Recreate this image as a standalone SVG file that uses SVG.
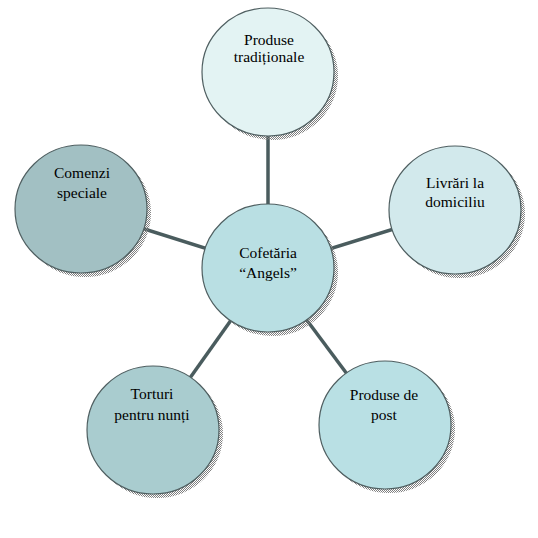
<svg xmlns="http://www.w3.org/2000/svg" width="538" height="538" viewBox="0 0 538 538">
<defs>
<pattern id="dither" width="2" height="2" patternUnits="userSpaceOnUse">
<rect x="0" y="0" width="1" height="1" fill="#7f7f7f"/>
<rect x="1" y="1" width="1" height="1" fill="#7f7f7f"/>
</pattern>
</defs>
<style>
.bg{fill:#ffffff}
.conn{stroke:#4a5c5e;stroke-width:3.5;fill:none}
.shadow{fill:url(#dither)}
.node{stroke:#4f5f61;stroke-width:1.2}
.lbl{font-family:"Liberation Serif","Times New Roman",serif;font-size:15.5px;fill:#000;text-anchor:middle}
</style>
<rect class="bg" x="0" y="0" width="538" height="538"/>
<g id="connectors">
<line class="conn" x1="268" y1="268" x2="268" y2="72"/>
<line class="conn" x1="268" y1="268" x2="455" y2="210"/>
<line class="conn" x1="268" y1="268" x2="81" y2="209"/>
<line class="conn" x1="268" y1="268" x2="153" y2="430"/>
<line class="conn" x1="268" y1="268" x2="385" y2="425"/>
</g>
<g id="shadows">
<ellipse class="shadow" cx="272" cy="76" rx="66" ry="64"/>
<ellipse class="shadow" cx="459" cy="214" rx="66" ry="64"/>
<ellipse class="shadow" cx="85" cy="213" rx="66" ry="64"/>
<ellipse class="shadow" cx="157" cy="434" rx="66" ry="64"/>
<ellipse class="shadow" cx="389" cy="429" rx="66" ry="64"/>
<ellipse class="shadow" cx="272" cy="272" rx="66" ry="64"/>
</g>
<g id="node-top">
<ellipse class="node" cx="268" cy="72" rx="66" ry="64" fill="#e3f3f3"/>
<text class="lbl" x="269" y="45">Produse</text>
<text class="lbl" x="269" y="62">tradiționale</text>
</g>
<g id="node-right">
<ellipse class="node" cx="455" cy="210" rx="66" ry="64" fill="#d2e9ec"/>
<text class="lbl" x="455" y="188">Livrări la</text>
<text class="lbl" x="455" y="207">domiciliu</text>
</g>
<g id="node-left">
<ellipse class="node" cx="81" cy="209" rx="66" ry="64" fill="#a2c0c3"/>
<text class="lbl" x="82" y="178">Comenzi</text>
<text class="lbl" x="82" y="198">speciale</text>
</g>
<g id="node-bottom-left">
<ellipse class="node" cx="153" cy="430" rx="66" ry="64" fill="#a9cccf"/>
<text class="lbl" x="152" y="399">Torturi</text>
<text class="lbl" x="152" y="420">pentru nunți</text>
</g>
<g id="node-bottom-right">
<ellipse class="node" cx="385" cy="425" rx="66" ry="64" fill="#b9e0e4"/>
<text class="lbl" x="384" y="400">Produse de</text>
<text class="lbl" x="384" y="420">post</text>
</g>
<g id="node-center">
<ellipse class="node" cx="268" cy="268" rx="66" ry="64" fill="#b9dfe3"/>
<text class="lbl" x="268" y="258">Cofetăria</text>
<text class="lbl" x="268" y="278">“Angels”</text>
</g>
</svg>
